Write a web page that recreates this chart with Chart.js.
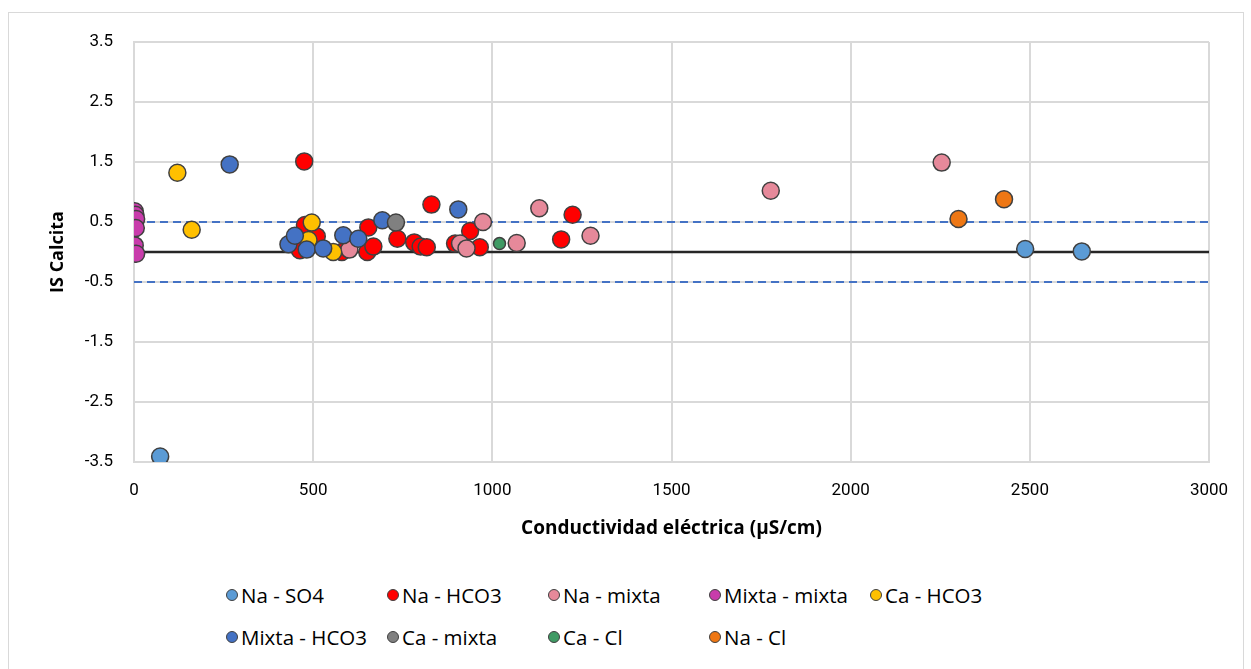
<!DOCTYPE html>
<html>
<head>
<meta charset="utf-8">
<script src="https://cdn.jsdelivr.net/npm/chart.js@4.4.1/dist/chart.umd.min.js"></script>
<style>
  body { margin: 0; background: #fff; font-family: Roboto, "Open Sans", sans-serif; }
  #frame { position: absolute; left: 8px; top: 12px; width: 1234px; height: 700px; border: 1px solid #d9d9d9; }
  #wrap { position: absolute; left: 0; top: 0; width: 1251px; height: 560px; }
  #legend { position: absolute; left: 0; top: 0; }
  .item { position: absolute; display: flex; align-items: center; font-family: "Open Sans", sans-serif; font-size: 20.5px; color: #000; white-space: nowrap; }
  .dot { width: 10px; height: 10px; border-radius: 50%; border: 1.5px solid #404040; margin-right: 3px; }
</style>
</head>
<body>
<div id="frame"></div>
<div id="wrap"><canvas id="chart" width="1251" height="560"></canvas></div>
<div id="legend"></div>
<script>
// series: [conductividad (µS/cm), IS calcita]
var naSO4 = [[73, -3.41], [2487, 0.05], [2645, 0.01]];
var naHCO3 = [[475, 1.51], [477, 0.45], [510, 0.26], [463, 0.03], [580, 0.0], [654, 0.41], [651, 0.0],
  [668, 0.09], [735, 0.22], [782, 0.16], [800, 0.09], [817, 0.08], [830, 0.79], [896, 0.14],
  [938, 0.35], [965, 0.08], [1192, 0.21], [1224, 0.62]];
var naMixta = [[601, 0.04], [910, 0.14], [928, 0.06], [974, 0.50], [1068, 0.15], [1131, 0.73],
  [1274, 0.27], [1777, 1.02], [2254, 1.49]];
var mixtaMixta = [[2, 0.68], [4, 0.62], [6, 0.55], [5, 0.40], [2, 0.11], [6, -0.03]];
var caHCO3 = [[121, 1.32], [161, 0.37], [496, 0.49], [487, 0.20], [556, 0.0]];
var mixtaHCO3 = [[267, 1.46], [431, 0.13], [449, 0.27], [482, 0.04], [528, 0.06], [584, 0.28],
  [626, 0.22], [693, 0.53], [905, 0.71]];
var caMixta = [[731, 0.49]];
var caCl = [[1020, 0.14]];
var naCl = [[2301, 0.55], [2428, 0.88]];

var seriesNames = ['Na - SO4', 'Na - HCO3', 'Na - mixta', 'Mixta - mixta', 'Ca - HCO3',
  'Mixta - HCO3', 'Ca - mixta', 'Ca - Cl', 'Na - Cl'];
var seriesData = [naSO4, naHCO3, naMixta, mixtaMixta, caHCO3, mixtaHCO3, caMixta, caCl, naCl];
var seriesColors = ['#5B9BD5', '#FF0000', '#E6899A', '#C83CAB', '#FFC000',
  '#4472C4', '#808080', '#3F9A64', '#EE7714'];
var seriesRadius = [8.5, 8.5, 8.5, 8.5, 8.5, 8.5, 8.5, 6, 8.5];

var xTicks = [0, 500, 1000, 1500, 2000, 2500, 3000];
var yTicks = [-3.5, -2.5, -1.5, -0.5, 0.5, 1.5, 2.5, 3.5];
var zeroLine = [[0, 0], [3000, 0]];
var upperLimit = [[0, 0.5], [3000, 0.5]];
var lowerLimit = [[0, -0.5], [3000, -0.5]];

function toPts(arr) { return arr.map(function (p) { return { x: p[0], y: p[1] }; }); }

var datasets = [];
datasets.push({ data: toPts(zeroLine), showLine: true, borderColor: '#262626', borderWidth: 2.5, pointRadius: 0, order: 100 });
datasets.push({ data: toPts(upperLimit), showLine: true, borderColor: '#4472C4', borderWidth: 2, borderDash: [8, 5], pointRadius: 0, order: 100 });
datasets.push({ data: toPts(lowerLimit), showLine: true, borderColor: '#4472C4', borderWidth: 2, borderDash: [8, 5], pointRadius: 0, order: 100 });
seriesNames.forEach(function (name, i) {
  datasets.push({
    label: name,
    data: toPts(seriesData[i]),
    backgroundColor: seriesColors[i],
    borderColor: '#404040',
    borderWidth: 1.5,
    pointRadius: seriesRadius[i],
    order: 50 - i   // later series on top, like Excel
  });
});

var ctx = document.getElementById('chart').getContext('2d');
var chart = new Chart(ctx, {
  type: 'scatter',
  data: { datasets: datasets },
  options: {
    responsive: false,
    animation: false,
    layout: { padding: { top: 42, right: 42, left: 0, bottom: 0 } },
    scales: {
      x: {
        type: 'linear', min: 0, max: 3000,
        afterBuildTicks: function (s) { s.ticks = xTicks.map(function (v) { return { value: v }; }); },
        afterFit: function (s) { s.height = 98; },
        ticks: { padding: 19, color: '#000', font: { family: 'Roboto', size: 17 },
          callback: function (v) { return String(v); } },
        grid: { color: '#d9d9d9', lineWidth: 2, drawTicks: false },
        border: { color: '#d9d9d9', width: 2 },
        title: { display: true, text: 'Conductividad eléctrica (µS/cm)', color: '#000',
          font: { family: 'Open Sans', size: 19, weight: 'bold' }, padding: { top: 0, bottom: 20 } }
      },
      y: {
        min: -3.5, max: 3.5,
        afterBuildTicks: function (s) { s.ticks = yTicks.map(function (v) { return { value: v }; }); },
        afterFit: function (s) { s.width = 134; },
        ticks: { padding: 21, color: '#000', font: { family: 'Roboto', size: 17 },
          callback: function (v) { return String(v); } },
        grid: { color: '#d9d9d9', lineWidth: 2, drawTicks: false },
        border: { color: '#d9d9d9', width: 2 },
        title: { display: true, text: 'IS Calcita', color: '#000',
          font: { family: 'Open Sans', size: 18, weight: 'bold' }, padding: { top: 47, bottom: 0 } }
      }
    },
    plugins: { legend: { display: false }, tooltip: { enabled: false } }
  }
});

// legend laid out as a grid like the Excel one
var legend = document.getElementById('legend');
seriesNames.forEach(function (name, i) {
  var col = i % 5, row = Math.floor(i / 5);
  var el = document.createElement('div');
  el.className = 'item';
  el.style.left = (226 + col * 161) + 'px';
  el.style.top = (581 + row * 42) + 'px';
  var dot = document.createElement('span');
  dot.className = 'dot';
  dot.style.background = seriesColors[i];
  el.appendChild(dot);
  el.appendChild(document.createTextNode(name));
  legend.appendChild(el);
});
</script>
</body>
</html>
